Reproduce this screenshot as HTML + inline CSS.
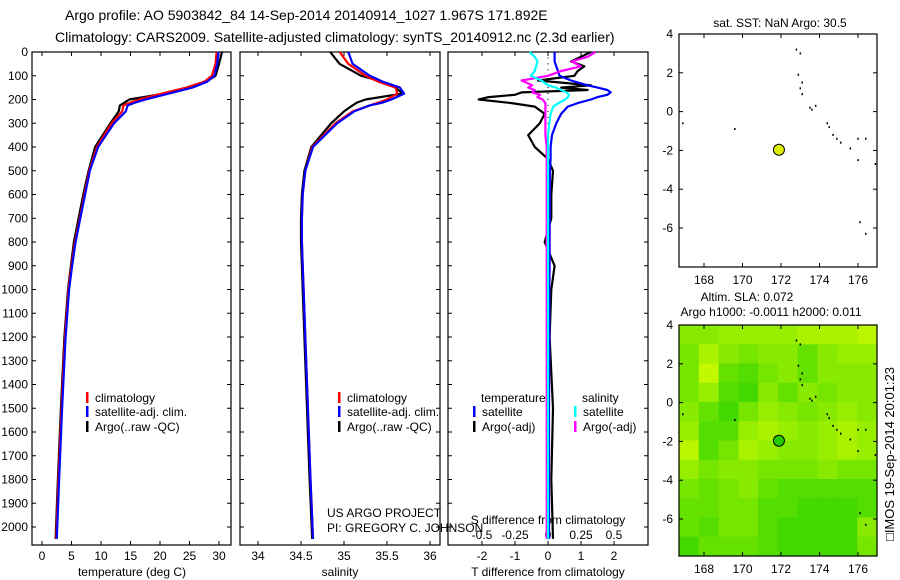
<!DOCTYPE html>
<html><head><meta charset="utf-8">
<style>
html,body{margin:0;padding:0;background:#fff;}
svg{display:block;font-family:"Liberation Sans",sans-serif;}
</style></head>
<body>
<svg id="fig" width="900" height="580" viewBox="0 0 900 580" xmlns="http://www.w3.org/2000/svg">
<text x="65" y="20" font-size="14">Argo profile: AO 5903842_84 14-Sep-2014 20140914_1027 1.967S 171.892E</text>
<text x="55" y="42" font-size="14">Climatology: CARS2009. Satellite-adjusted climatology: synTS_20140912.nc (2.3d earlier)</text>
<g id="layer"></g>
</svg>
<script>
// ---------- data ----------
const depthTicks=[0,100,200,300,400,500,600,700,800,900,1000,1100,1200,1300,1400,1500,1600,1700,1800,1900,2000];
const tempTicks=[0,5,10,15,20,25,30];
const salTicks=[34,34.5,35,35.5,36];
const tdTicks=[-2,-1,0,1,2];
const sdTicks=[-0.5,-0.25,0,0.25,0.5];
const sdTickLabels=["-0.5","-0.25","0","0.25","0.5"];

const profDepth=[0,50,100,125,150,175,200,213,225,250,300,400,500,600,700,800,900,1000,1200,1500,1800,2050];
const tempClim=[29.6,29.4,28.8,27.5,24.5,20.3,16.5,15.0,13.8,13.6,11.8,9.3,8.0,7.2,6.4,5.6,5.0,4.5,3.9,3.3,2.8,2.4];
const tempSat =[29.9,29.7,29.2,28.0,25.5,21.5,17.5,15.8,14.5,14.2,12.2,9.5,8.1,7.3,6.5,5.7,5.1,4.6,4.0,3.4,2.9,2.5];
const tempArgo=[30.5,30.0,29.4,27.8,24.5,20.8,14.8,14.0,13.2,13.0,11.6,9.0,7.9,7.0,6.2,5.4,4.9,4.4,3.8,3.2,2.7,2.3];
const salClim=[34.95,35.05,35.25,35.4,35.6,35.62,35.5,35.4,35.3,35.1,34.9,34.63,34.55,34.52,34.51,34.51,34.52,34.53,34.55,34.58,34.61,34.64];
const salSat =[35.05,35.1,35.3,35.45,35.65,35.7,35.55,35.45,35.3,35.12,34.92,34.64,34.55,34.52,34.51,34.51,34.52,34.53,34.55,34.58,34.61,34.64];
const salArgo=[34.84,34.95,35.2,35.45,35.6,35.68,35.25,35.15,35.1,35.0,34.85,34.62,34.54,34.51,34.50,34.50,34.51,34.52,34.54,34.57,34.60,34.63];

const diffDepth=[0,20,40,60,80,100,120,140,150,160,170,180,190,200,215,230,260,300,350,400,450,500,600,700,800,900,1000,1200,1500,1800,2050];
const tdSat =[0.2,0.2,0.2,0.25,0.3,0.35,0.7,1.2,1.5,1.8,1.9,1.8,1.5,1.3,0.9,0.6,0.4,0.25,0.12,0.08,0.08,0.06,0.05,0.05,0.05,0.05,0.04,0.04,0.03,0.03,0.03];
const tdArgo=[1.3,1.0,0.7,1.1,0.9,0.8,-0.3,1.3,0.4,1.2,-0.8,-1.0,-1.8,-2.1,-1.1,-0.4,-0.1,-0.25,-0.6,-0.4,0.0,0.15,0.1,0.1,-0.1,0.2,0.1,0.05,0.15,0.1,0.15];
const sdSat =[-0.14,-0.1,-0.08,-0.09,-0.1,-0.13,-0.05,0.0,0.06,0.1,0.14,0.16,0.15,0.13,0.08,0.04,0.02,0.01,0.0,0.0,0.0,0.0,0.0,0.0,0.0,0.0,0.0,0.0,0.0,0.0,0.0];
const sdArgo=[0.36,0.3,0.18,0.25,0.1,0.0,-0.2,-0.12,-0.15,-0.1,-0.12,-0.06,-0.08,-0.04,-0.02,-0.02,-0.02,-0.02,-0.02,-0.01,-0.01,-0.01,-0.01,-0.01,-0.01,-0.01,-0.01,-0.01,-0.01,-0.01,-0.01];

const latTicks=[4,2,0,-2,-4,-6];
const lonTicks=[168,170,172,174,176];
const argoLon=171.892, argoLat=-1.967;
const islandLon=[172.8,173.0,172.9,173.1,173.0,173.1,173.5,173.8,173.6,174.4,174.5,174.7,174.9,175.1,175.6,176.0,176.4,169.6,166.9,176.1,176.4,176.9,176.0];
const islandLat=[3.2,3.0,1.9,1.5,1.2,0.9,0.2,0.3,0.1,-0.6,-0.8,-1.2,-1.4,-1.6,-1.9,-1.4,-1.4,-0.9,-0.6,-5.7,-6.3,-2.7,-2.5];
const slaGrid=[
[0.5,0.5,0.6,0.6,0.6,0.6,0.7,0.7,0.7,0.8],
[0.4,0.7,0.5,0.4,0.5,0.5,0.3,0.5,0.6,0.6],
[0.4,0.85,0.3,0.2,0.4,0.5,0.3,0.5,0.5,0.5],
[0.4,0.6,0.2,0.1,0.5,0.3,0.5,0.4,0.5,0.5],
[0.5,0.3,0.1,0.4,0.6,0.5,0.4,0.5,0.6,0.5],
[0.6,0.2,0.2,0.6,0.7,0.6,0.5,0.6,0.7,0.6],
[0.8,0.2,0.4,0.7,0.6,0.5,0.5,0.6,0.7,0.6],
[0.6,0.4,0.5,0.5,0.4,0.4,0.4,0.5,0.4,0.4],
[0.4,0.3,0.4,0.5,0.3,0.2,0.2,0.2,0.2,0.2],
[0.3,0.3,0.4,0.4,0.2,0.2,0.1,0.1,0.1,0.2],
[0.3,0.2,0.4,0.4,0.2,0.1,0.1,0.1,0.1,0.5],
[0.1,0.3,0.3,0.3,0.2,0.1,0.1,0.1,0.1,0.4]];

// ---------- helpers ----------
const NS="http://www.w3.org/2000/svg";
const L=document.getElementById('layer');
function mk(tag,attrs,parent){const e=document.createElementNS(NS,tag);for(const k in attrs)e.setAttribute(k,attrs[k]);(parent||L).appendChild(e);return e;}
function txt(x,y,s,anchor,size,name){const t=mk('text',{x:x,y:y,'font-size':size||12,'text-anchor':anchor||'start'});t.textContent=s;


return t;}
const PY0=52, PY1=545;
const yD=d=>PY0+d*0.2375;

function panel(x0,x1,name){
  const r=mk('rect',{x:x0,y:PY0,width:x1-x0,height:PY1-PY0,fill:'none',stroke:'#000','stroke-width':1.2});
  
  
}
function xticks(xs,vals,labels,ly,name){
  vals.forEach((v,i)=>{const x=xs(v);
    mk('line',{x1:x,x2:x,y1:PY0,y2:PY0+4,stroke:'#000'});
    mk('line',{x1:x,x2:x,y1:PY1,y2:PY1-4,stroke:'#000'});
    txt(x,ly,labels?labels[i]:String(v),'middle',12,name);});
}
function line(xs,vals,depths,color,name,w){
  const p=vals.map((v,i)=>xs(v).toFixed(1)+','+yD(depths[i]).toFixed(1)).join(' ');
  const e=mk('polyline',{points:p,fill:'none',stroke:color,'stroke-width':w||2.2,'stroke-linejoin':'round'});
  
  
}
function legendBar(x,y,color,label,name){
  mk('rect',{x:x,y:y-10,width:2.5,height:11,fill:color});
  txt(x+9,y,label,'start',12,name);
}

// ---------- panel 1: temperature ----------
const xT=v=>42+v*5.9;
panel(32,231,'temperature-panel');
depthTicks.forEach(d=>{const y=yD(d);
  mk('line',{x1:32,x2:36,y1:y,y2:y,stroke:'#000'});
  mk('line',{x1:231,x2:227,y1:y,y2:y,stroke:'#000'});
  txt(28,y+4,String(d),'end',12,'depth-tick-label');
  mk('line',{x1:240,x2:244,y1:y,y2:y,stroke:'#000'});
  mk('line',{x1:440,x2:436,y1:y,y2:y,stroke:'#000'});
  mk('line',{x1:448,x2:452,y1:y,y2:y,stroke:'#000'});
  mk('line',{x1:648,x2:644,y1:y,y2:y,stroke:'#000'});
});
xticks(xT,tempTicks,null,560,'temperature-tick-label');
txt(132,576,'temperature (deg C)','middle',12,'temperature-axis-title');
line(xT,tempArgo,profDepth,'#000','temp-argo-line');
line(xT,tempClim,profDepth,'#f00','temp-climatology-line');
line(xT,tempSat,profDepth,'#00f','temp-satellite-line');
legendBar(86,402,'#f00','climatology','legend-climatology');
legendBar(86,416,'#00f','satellite-adj. clim.','legend-satellite');
legendBar(86,431,'#000','Argo(..raw -QC)','legend-argo');

// ---------- panel 2: salinity ----------
const xS=v=>258+(v-34)*86;
panel(240,440,'salinity-panel');
xticks(xS,salTicks,null,560,'salinity-tick-label');
txt(340,576,'salinity','middle',12,'salinity-axis-title');
line(xS,salArgo,profDepth,'#000','sal-argo-line');
line(xS,salClim,profDepth,'#f00','sal-climatology-line');
line(xS,salSat,profDepth,'#00f','sal-satellite-line');
legendBar(338,402,'#f00','climatology','legend-climatology-2');
legendBar(338,416,'#00f','satellite-adj. clim.','legend-satellite-2');
legendBar(338,431,'#000','Argo(..raw -QC)','legend-argo-2');
txt(327,517,'US ARGO PROJECT','start',12,'project-label');
txt(327,532,'PI: GREGORY C. JOHNSON','start',12,'pi-label');

// ---------- panel 3: differences ----------
const xTD=v=>548+v*33;
const xSD=v=>548+v*132;
panel(448,648,'difference-panel');
for(let d=0;d<=2050;d+=25){mk('circle',{cx:548,cy:yD(d),r:0.6,fill:'#000'});}
xticks(xTD,tdTicks,null,560,'tdiff-tick-label');
sdTicks.forEach((v,i)=>txt(xSD(v),539,sdTickLabels[i],'middle',12,'sdiff-tick-label'));
txt(548,524,'S difference from climatology','middle',12,'sdiff-axis-title');
txt(548,576,'T difference from climatology','middle',12,'tdiff-axis-title');
line(xTD,tdArgo,diffDepth,'#000','tdiff-argo-line');
line(xTD,tdSat,diffDepth,'#00f','tdiff-satellite-line');
line(xSD,sdArgo,diffDepth,'#f0f','sdiff-argo-line');
line(xSD,sdSat,diffDepth,'#0ff','sdiff-satellite-line');
txt(481,402,'temperature','start',12,'legend-temperature-header');
legendBar(473,416,'#00f','satellite','legend-t-satellite');
legendBar(473,431,'#000','Argo(-adj)','legend-t-argo');
txt(582,402,'salinity','start',12,'legend-salinity-header');
legendBar(574,416,'#0ff','satellite','legend-s-satellite');
legendBar(574,431,'#f0f','Argo(-adj)','legend-s-argo');

// ---------- maps ----------
const MX0=679,MX1=877;
const xLon=v=>704+(v-168)*19.25;
function map(y0,y1,latY4,name,bg){
  const yLat=v=>latY4+(4-v)*19.4;
  const g=mk('g',{});
  
  
  if(bg){
    const rows=slaGrid.length, cols=slaGrid[0].length;
    const cw=(MX1-MX0)/cols, ch=(y1-y0)/rows;
    slaGrid.forEach((row,r)=>row.forEach((v,c)=>{
      const R=Math.round(50+170*v),G=Math.round(212+43*v);
      const cell=mk('rect',{x:MX0+c*cw,y:y0+r*ch,width:cw+0.6,height:ch+0.6,fill:`rgb(${R},${G},0)`},g);
      
      
    }));
  }
  islandLon.forEach((lo,i)=>{const d=mk('rect',{x:xLon(lo)-0.7,y:yLat(islandLat[i])-1,width:1.5,height:2,fill:'#000'},g);
    
    });
  const c=mk('circle',{cx:xLon(argoLon),cy:yLat(argoLat),r:5.5,fill:bg?'#22cc00':'#ddee00',stroke:'#000','stroke-width':1},g);
  
  
  mk('rect',{x:MX0,y:y0,width:MX1-MX0,height:y1-y0,fill:'none',stroke:'#000','stroke-width':1.2},g);
  latTicks.forEach(v=>{const y=yLat(v);
    mk('line',{x1:MX0,x2:MX0+4,y1:y,y2:y,stroke:'#000'},g);
    mk('line',{x1:MX1,x2:MX1-4,y1:y,y2:y,stroke:'#000'},g);
    txt(673,y+4,String(v),'end',12,'lat-tick-label');});
  lonTicks.forEach(v=>{const x=xLon(v);
    mk('line',{x1:x,x2:x,y1:y0,y2:y0+4,stroke:'#000'},g);
    mk('line',{x1:x,x2:x,y1:y1,y2:y1-4,stroke:'#000'},g);
    txt(x,y1+17,String(v),'middle',12,'lon-tick-label');});
}
txt(780,27,'sat. SST: NaN Argo: 30.5','middle',12,'sst-map-title');
map(34,267,34,'sst-map',false);
txt(747,301,'Altim. SLA: 0.072','middle',12,'sla-map-title');
txt(771,316,'Argo h1000: -0.0011 h2000: 0.011','middle',12,'sla-map-subtitle');
map(325,556,325,'sla-map',true);
const side=txt(0,0,'\u25A1IMOS 19-Sep-2014 20:01:23','middle',13,'timestamp-label');
side.setAttribute('transform','translate(894,454) rotate(-90)');
</script>
</body></html>
